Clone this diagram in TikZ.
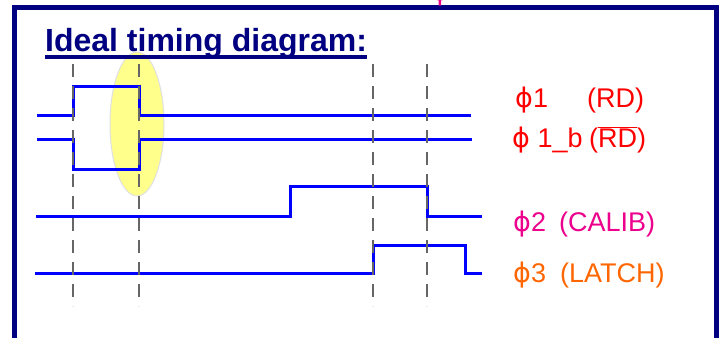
\documentclass[tikz,border=0pt]{standalone}
\usepackage{fontspec}
\setmainfont{Liberation Sans}
\newfontfamily\phifont{DejaVu Sans}
\definecolor{navy}{RGB}{0,0,128}
\definecolor{sigorange}{RGB}{255,102,0}
\definecolor{hilite}{RGB}{255,255,140}
\newcommand{\ph}{{\phifont ϕ}}

\begin{document}
\begin{tikzpicture}[x=1pt,y=-1pt,
  wave/.style={blue,line width=3pt,line join=miter},
  marker/.style={black!60,line width=1.5pt,dash pattern=on 13pt off 9pt},
  lbl/.style={anchor=base west,inner sep=0pt,font=\fontsize{27}{32}\selectfont}]
\useasboundingbox (0,0) rectangle (719,337);
\begin{scope}
  \clip (0,0) rectangle (719,337);
  \draw[navy,line width=5pt] (14,8) rectangle (716,360);
  \node[lbl,magenta] (phiTop) at (431,1) {\ph2};
\end{scope}
\filldraw[fill=hilite,draw=black!12,line width=1pt] (137,124) ellipse [x radius=27,y radius=72];
\node[lbl,navy,font=\fontsize{32}{38}\selectfont\bfseries] (title) at (45,52) {Ideal timing diagram:};
\draw[navy,line width=3.5pt] ([yshift=-5pt]title.base west) -- ([yshift=-5pt]title.base east);
% the four clock phases
\draw[wave] (37,115) -- (73,115) -- (73,86) -- (139,86) -- (139,115) -- (471,115);
\draw[wave] (37,139) -- (73,139) -- (73,169) -- (139,169) -- (139,139) -- (472,139);
\draw[wave] (36,216) -- (290,216) -- (290,186) -- (427,186) -- (427,216) -- (482,216);
\draw[wave] (35,273) -- (373,273) -- (373,245) -- (465,245) -- (465,273) -- (482,273);
\foreach \t in {73,139,373,427}
  \draw[marker] (\t,64) -- (\t,306);
\node[lbl,red] (phiA) at (515,107) {\ph1};
\node[lbl,red] (rdA) at (587,107) {(RD)};
\node[lbl,red] (phiB) at (512,147) {\ph\ 1\_b};
\node[lbl,red] (rdB) at (589,147) {($\overline{\mbox{RD}}$)};
\node[lbl,magenta] (phiC) at (513,231) {\ph2};
\node[lbl,magenta] (calib) at (559,231) {(CALIB)};
\node[lbl,sigorange] (phiD) at (513,282) {\ph3};
\node[lbl,sigorange] (latch) at (560,282) {(LATCH)};
\end{tikzpicture}
\end{document}
